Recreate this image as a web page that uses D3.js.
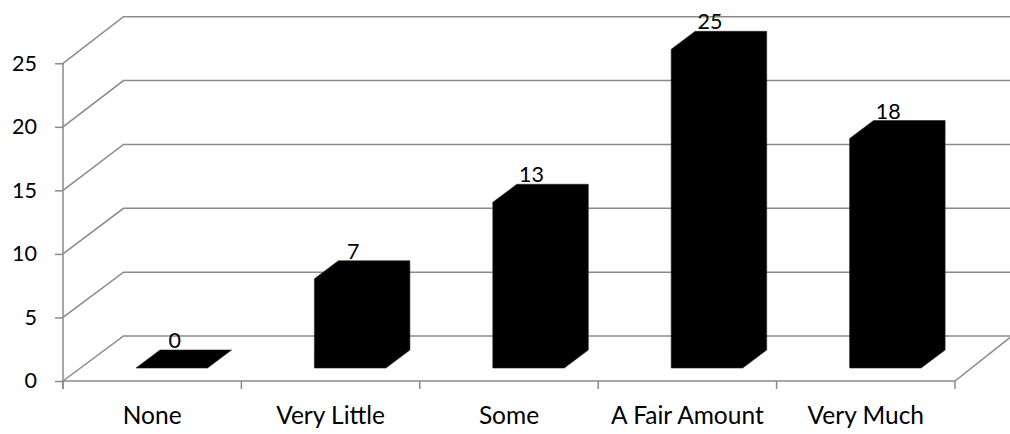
<!DOCTYPE html>
<html>
<head>
<meta charset="utf-8">
<script src="https://cdn.jsdelivr.net/npm/d3@7"></script>
<style>
  html, body { margin: 0; padding: 0; background: #fff; }
  svg { display: block; }
  text { font-family: Lato, "Open Sans", sans-serif; fill: #000; }
</style>
</head>
<body>
<svg id="chart" width="1010" height="434"></svg>
<script>
// Responses per category
const categories = ["None", "Very Little", "Some", "A Fair Amount", "Very Much"];
const values = [0, 7, 13, 25, 18];
const yTicks = [0, 5, 10, 15, 20, 25];

const W = 1010, H = 434;
const svg = d3.select("#chart");
svg.append("rect").attr("width", W).attr("height", H).attr("fill", "#fff");

const gridColor = "#8a8a8a";
const numSize = 21.5;   // tick and value labels
const catSize = 24.5;   // category labels

// Category axis along the front edge of the floor
const x = d3.scaleBand().domain(categories).range([63, 955]);
// Value scales: front plane, back wall and bar front face
const yFront = d3.scaleLinear().domain([0, 25]).range([381, 63.3]);
const yBack = d3.scaleLinear().domain([0, 25]).range([336, 16.7]);
const yBar = d3.scaleLinear().domain([0, 25]).range([368, 49.3]);

const wallDx = 60.5;          // depth offset of the back wall
const barDx = 24, barDy = 18; // depth of each column
const barOffset = 73, barW = 71.5;

const grid = svg.append("g")
  .attr("fill", "none")
  .attr("stroke", gridColor)
  .attr("stroke-width", 1.5);

// Left wall diagonals + back wall horizontal gridlines
yTicks.forEach(v => {
  grid.append("path")
    .attr("d", d3.line()([
      [x.range()[0], yFront(v)],
      [x.range()[0] + wallDx, yBack(v)],
      [W + 5, yBack(v)]
    ]));
});

// Floor front edge and right floor edge
const floorRight = x.range()[1];
grid.append("path")
  .attr("d", d3.line()([
    [x.range()[0], yFront(0)],
    [floorRight, yFront(0)],
    [floorRight + 57, yBack(0)]
  ]));

// Value axis
const yAxis = d3.axisLeft(yFront)
  .tickValues(yTicks)
  .tickSize(8)
  .tickPadding(18)
  .tickFormat(d3.format("d"));
const gy = svg.append("g")
  .attr("transform", `translate(${x.range()[0]},0)`)
  .call(yAxis);
gy.select(".domain")
  .attr("stroke", gridColor)
  .attr("stroke-width", 1.5)
  .attr("d", `M0,${yFront(25)}V${yFront(0) + 8}`);
gy.selectAll(".tick line").attr("stroke", gridColor).attr("stroke-width", 1.5);
gy.selectAll(".tick text")
  .attr("font-size", numSize)
  .attr("font-family", "Lato, 'Open Sans', sans-serif")
  .attr("fill", "#000");

// Category axis: boundary ticks and centred labels
const bounds = categories.map(c => x(c)).concat([x.range()[1]]);
svg.append("g").selectAll("line")
  .data(bounds)
  .join("line")
  .attr("x1", d => d).attr("x2", d => d)
  .attr("y1", yFront(0)).attr("y2", yFront(0) + 8)
  .attr("stroke", gridColor)
  .attr("stroke-width", 1.5);

svg.append("g").selectAll("text")
  .data(categories)
  .join("text")
  .attr("x", d => x(d) + x.bandwidth() / 2)
  .attr("y", 424)
  .attr("text-anchor", "middle")
  .attr("font-size", catSize)
  .text(d => d);

// 3D columns, drawn as the visible silhouette (front, top and side)
const bars = svg.append("g");
categories.forEach((c, i) => {
  const v = values[i];
  const x0 = x(c) + barOffset, x1 = x0 + barW;
  const yb = yBar(0), yt = yBar(v);
  const pts = [
    [x0, yb], [x0, yt],
    [x0 + barDx, yt - barDy], [x1 + barDx, yt - barDy],
    [x1 + barDx, yb - barDy], [x1, yb]
  ];
  bars.append("path")
    .attr("d", d3.line()(pts) + "Z")
    .attr("fill", "#000")
    .attr("stroke", "#222")
    .attr("stroke-width", 0.6);

  bars.append("text")
    .attr("x", x0 + barW / 2 + 3)
    .attr("y", yt - barDy - 2)
    .attr("text-anchor", "middle")
    .attr("font-size", numSize)
    .text(v);
});
</script>
</body>
</html>
